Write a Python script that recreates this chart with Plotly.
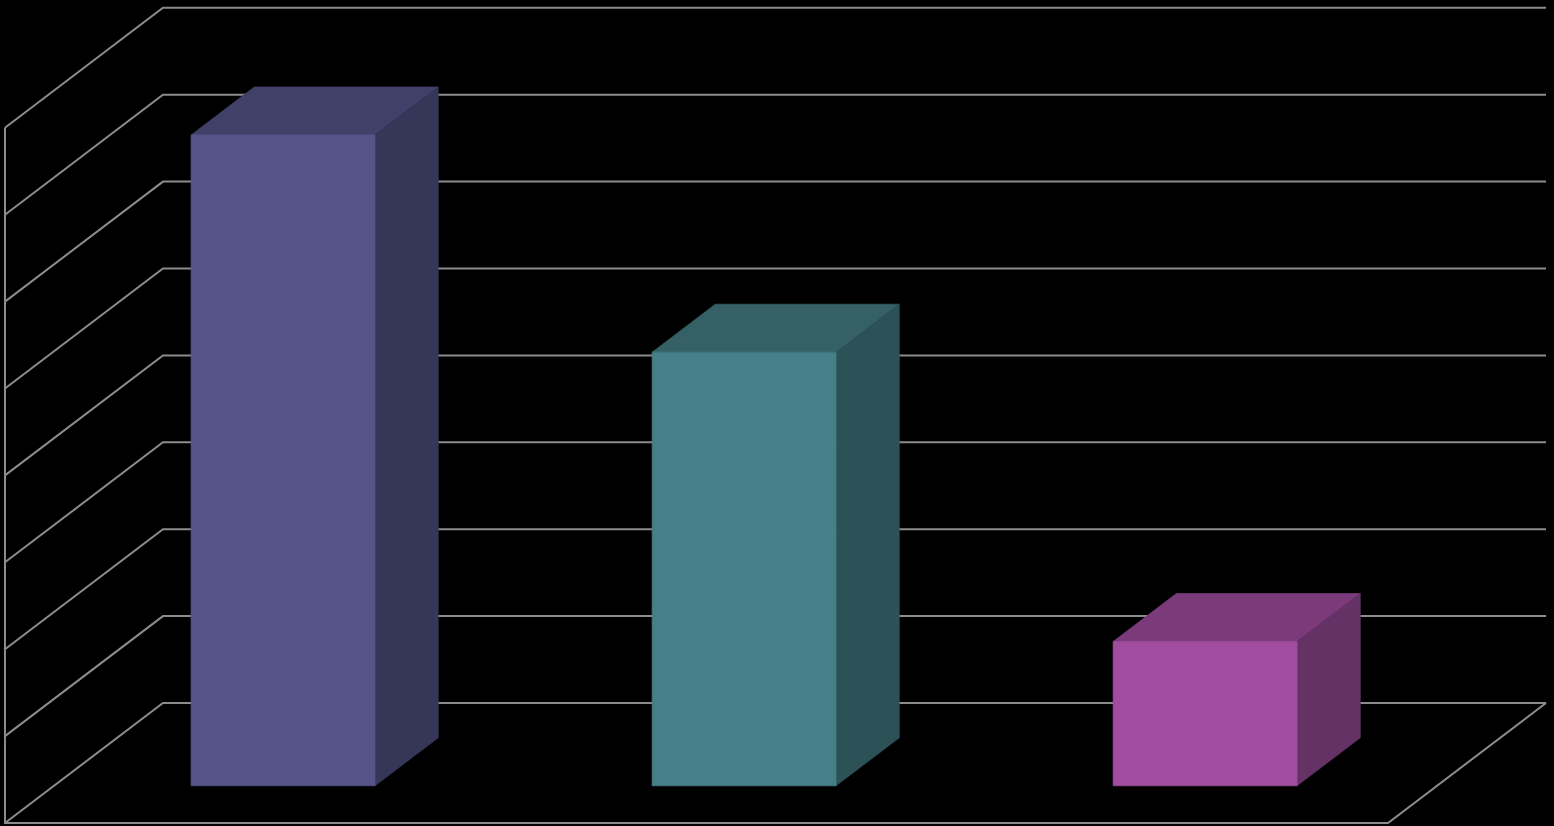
import plotly.graph_objects as go

# --- data ---
categories = [0, 1, 2]
values = [7.49, 4.99, 1.66]
grid_values = [0, 1, 2, 3, 4, 5, 6, 7, 8]
front_colors = ["#55558a", "#457f88", "#a04da0"]
top_colors = ["#404068", "#356166", "#7b3b7b"]
side_colors = ["#363658", "#2c5257", "#653265"]
GRID = "#8c8c8c"

# --- oblique projection, in axis units ---
DEPTH_X = 0.3427
DEPTH_Y = 1.381
BAR_WIDTH = 0.399
BAR_CENTER = 0.497
BAR_D0 = 0.31
BAR_D1 = 0.71
N = len(categories)


def proj(c, v, d):
    return c + d * DEPTH_X, v + d * DEPTH_Y


def poly(points, color):
    xs, ys = zip(*[proj(*p) for p in points])
    return go.Scatter(x=list(xs) + [xs[0]], y=list(ys) + [ys[0]], mode="lines",
                      fill="toself", fillcolor=color, line=dict(width=0.7, color=color),
                      hoverinfo="skip", showlegend=False)


def line(points):
    xs, ys = zip(*[proj(*p) for p in points])
    return go.Scatter(x=xs, y=ys, mode="lines", line=dict(color=GRID, width=2),
                      hoverinfo="skip", showlegend=False)


fig = go.Figure()

# walls and floor
for g in grid_values:
    fig.add_trace(line([(0, g, 0), (0, g, 1), (N, g, 1)]))
fig.add_trace(line([(0, grid_values[-1], 0), (0, 0, 0), (N, 0, 0), (N, 0, 1)]))

# bars
for c, v, fc, tc, sc in zip(categories, values, front_colors, top_colors, side_colors):
    l = c + BAR_CENTER - BAR_WIDTH / 2
    r = c + BAR_CENTER + BAR_WIDTH / 2
    fig.add_trace(poly([(l, v, BAR_D0), (l, v, BAR_D1), (r, v, BAR_D1), (r, v, BAR_D0)], tc))
    fig.add_trace(poly([(r, 0, BAR_D0), (r, 0, BAR_D1), (r, v, BAR_D1), (r, v, BAR_D0)], sc))
    fig.add_trace(poly([(l, 0, BAR_D0), (r, 0, BAR_D0), (r, v, BAR_D0), (l, v, BAR_D0)], fc))

fig.update_layout(
    width=1554, height=826, margin=dict(l=0, r=0, t=0, b=0, pad=0),
    paper_bgcolor="#000000", plot_bgcolor="#000000", showlegend=False,
    xaxis=dict(range=[-0.0108, 3.3600], visible=False, fixedrange=True),
    yaxis=dict(range=[-0.0345, 9.4707], visible=False, fixedrange=True),
)
fig.write_html(
    "out.html",
    config={"displayModeBar": False},
    post_script="document.body.style.margin='0';document.body.style.background='#000';"
                "document.body.style.overflow='hidden';",
)
